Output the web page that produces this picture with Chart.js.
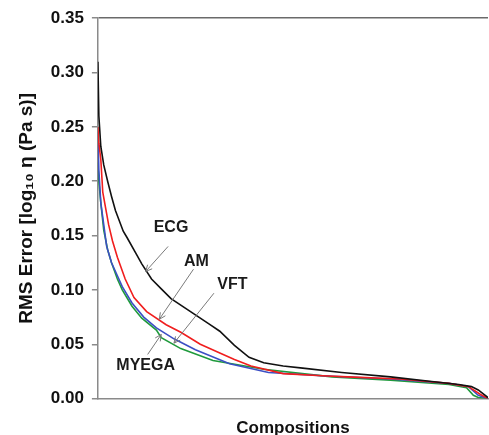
<!DOCTYPE html>
<html>
<head>
<meta charset="utf-8">
<script src="https://cdn.jsdelivr.net/npm/chart.js@4.4.1/dist/chart.umd.min.js"></script>
<style>
  html, body { margin: 0; padding: 0; background: #fff; }
  #wrap { width: 489px; height: 435px; }
</style>
</head>
<body>
<div id="wrap"><canvas id="graphique"></canvas></div>
<script>
// composition index (sorted by error) and RMS error values
var ecgX = [0, 1, 3, 6, 10, 14, 18, 26, 30, 40, 45, 55, 65, 75, 95, 115, 125, 140, 155, 170, 190, 210, 250, 300, 340, 370, 383, 390, 400];
var ecgY = [0.310, 0.260, 0.232, 0.215, 0.200, 0.186, 0.173, 0.154, 0.148, 0.132, 0.124, 0.110, 0.101, 0.092, 0.080, 0.068, 0.062, 0.049, 0.038, 0.033, 0.030, 0.028, 0.024, 0.020, 0.016, 0.013, 0.011, 0.008, 0.001];

var amX = [0, 1, 3, 5, 8, 11, 15, 20, 28, 37, 50, 70, 85, 105, 125, 140, 157, 190, 230, 256, 310, 360, 380, 392, 400];
var amY = [0.250, 0.235, 0.220, 0.190, 0.175, 0.160, 0.145, 0.130, 0.110, 0.093, 0.080, 0.068, 0.061, 0.050, 0.042, 0.036, 0.030, 0.023, 0.021, 0.020, 0.018, 0.014, 0.011, 0.004, 0.000];

var vftX = [0, 1, 3, 6, 9, 14, 20, 25, 35, 47, 60, 78, 100, 135, 175, 230, 300, 360, 380, 390, 400];
var vftY = [0.245, 0.210, 0.180, 0.160, 0.140, 0.125, 0.113, 0.103, 0.088, 0.075, 0.065, 0.055, 0.045, 0.032, 0.024, 0.021, 0.018, 0.014, 0.011, 0.003, 0.000];

var myegaX = [0, 1, 3, 6, 10, 14, 20, 25, 35, 45, 60, 65, 85, 118, 170, 240, 300, 360, 378, 385, 390, 400];
var myegaY = [0.217, 0.200, 0.180, 0.155, 0.137, 0.125, 0.110, 0.100, 0.085, 0.074, 0.063, 0.056, 0.046, 0.035, 0.027, 0.020, 0.017, 0.013, 0.010, 0.003, 0.001, 0.000];

var yTicks = [0, 0.05, 0.10, 0.15, 0.20, 0.25, 0.30, 0.35];

function points(xs, ys) {
    return xs.map(function (x, i) { return { x: x, y: ys[i] }; });
}

// labels with arrows, in data units
var etiquettes = [
    { text: 'ECG',   x: 75,  y: 0.157,  from: [72, 0.140],  to: [49, 0.117] },
    { text: 'AM',    x: 101, y: 0.1265, from: [98, 0.119],  to: [63, 0.073] },
    { text: 'VFT',   x: 138, y: 0.105,  from: [119, 0.097], to: [78, 0.051] },
    { text: 'MYEGA', x: 49,  y: 0.0305, from: [51, 0.0406], to: [65, 0.059] }
];

var flechesPlugin = {
    id: 'fleches',
    afterDatasetsDraw: function (chart) {
        var ctx = chart.ctx;
        var sx = chart.scales.x, sy = chart.scales.y;
        ctx.save();
        etiquettes.forEach(function (e) {
            var x1 = sx.getPixelForValue(e.from[0]), y1 = sy.getPixelForValue(e.from[1]);
            var x2 = sx.getPixelForValue(e.to[0]), y2 = sy.getPixelForValue(e.to[1]);
            ctx.strokeStyle = '#7a7a7a';
            ctx.lineWidth = 1;
            ctx.beginPath();
            ctx.moveTo(x1, y1);
            ctx.lineTo(x2, y2);
            var a = Math.atan2(y2 - y1, x2 - x1);
            ctx.moveTo(x2 - 7 * Math.cos(a - 0.45), y2 - 7 * Math.sin(a - 0.45));
            ctx.lineTo(x2, y2);
            ctx.lineTo(x2 - 7 * Math.cos(a + 0.45), y2 - 7 * Math.sin(a + 0.45));
            ctx.stroke();
            ctx.fillStyle = '#1a1a1a';
            ctx.font = 'bold 16px "Liberation Sans", Arial, sans-serif';
            ctx.textAlign = 'center';
            ctx.textBaseline = 'middle';
            ctx.fillText(e.text, sx.getPixelForValue(e.x), sy.getPixelForValue(e.y));
        });
        ctx.restore();
    }
};

function serie(label, xs, ys, couleur) {
    return {
        label: label,
        data: points(xs, ys),
        borderColor: couleur,
        backgroundColor: couleur,
        borderWidth: 1.6,
        pointRadius: 0,
        tension: 0,
        fill: false
    };
}

var ctx = document.getElementById('graphique').getContext('2d');
var graphique = new Chart(ctx, {
    type: 'line',
    data: {
        datasets: [
            serie('ECG', ecgX, ecgY, '#111111'),
            serie('AM', amX, amY, '#f01e1e'),
            serie('VFT', vftX, vftY, '#3c4fc4'),
            serie('MYEGA', myegaX, myegaY, '#1f9a3c')
        ]
    },
    options: {
        responsive: true,
        maintainAspectRatio: false,
        animation: false,
        layout: { padding: { top: 9, right: 1, left: 15, bottom: -4 } },
        plugins: {
            legend: { display: false },
            tooltip: { enabled: false }
        },
        scales: {
            x: {
                type: 'linear',
                min: 0,
                max: 400,
                ticks: { display: false },
                grid: { display: false },
                border: { display: true, color: '#8a8a8a', width: 1.5 },
                title: {
                    display: true,
                    text: 'Compositions',
                    color: '#111',
                    font: { family: '"Liberation Sans", Arial, sans-serif', size: 17, weight: 'bold' },
                    padding: { top: 12, bottom: 0 }
                }
            },
            y: {
                min: 0,
                max: 0.35,
                afterBuildTicks: function (axis) {
                    axis.ticks = yTicks.map(function (v) { return { value: v }; });
                },
                ticks: {
                    color: '#111',
                    padding: 8,
                    font: { family: '"Liberation Sans", Arial, sans-serif', size: 17, weight: 'bold' },
                    callback: function (v) { return v.toFixed(2); }
                },
                grid: {
                    drawOnChartArea: true,
                    tickLength: 6,
                    tickColor: '#8a8a8a',
                    lineWidth: 1.5,
                    color: function (c) {
                        return c.tick && Math.abs(c.tick.value - 0.35) < 1e-9 ? '#6a6a6a' : 'rgba(0,0,0,0)';
                    }
                },
                border: { display: true, color: '#8a8a8a', width: 1.5 },
                title: {
                    display: true,
                    text: 'RMS Error [log₁₀ η (Pa s)]',
                    color: '#111',
                    font: { family: '"Liberation Sans", Arial, sans-serif', size: 19, weight: 'bold' },
                    padding: { top: 0, bottom: 5 }
                }
            }
        }
    },
    plugins: [flechesPlugin]
});
</script>
</body>
</html>
